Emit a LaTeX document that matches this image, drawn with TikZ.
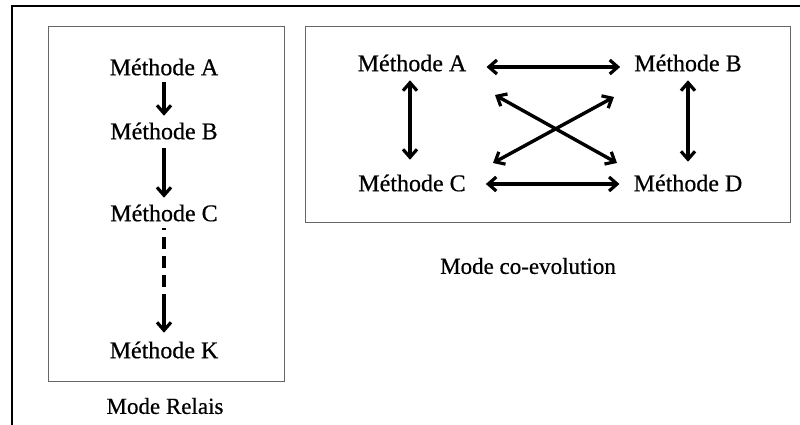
\documentclass[tikz,border=0pt]{standalone}
\usepackage{fontspec}
\setmainfont{Liberation Serif}
\newfontfamily\heavy{Liberation Serif}[FakeBold=0.5]
\usetikzlibrary{arrows.meta}
\begin{document}
\begin{tikzpicture}[x=1pt,y=-1pt,
  lbl/.style={font=\heavy\fontsize{24}{28}\selectfont, inner sep=0pt},
  captxt/.style={font=\heavy\fontsize{23}{27}\selectfont, inner sep=0pt},
  arr/.style={line width=3.2pt, -{Straight Barb[length=8pt,width=14pt,line width=3.2pt]}},
  darr/.style={line width=3.2pt, {Straight Barb[length=8pt,width=14pt,line width=3.2pt]}-{Straight Barb[length=8pt,width=14pt,line width=3.2pt]}},
  diag/.style={darr, line width=3.4pt},
  frame/.style={draw=black!60, line width=1pt}]
\useasboundingbox (0,0) rectangle (800,425);
% outer frame (top and left)
\draw[line width=2.6pt] (12,425) -- (12,6) -- (800,6);
% left box
\draw[frame] (48,27) rectangle (284,381);
\node[lbl] (la) at (164,67) {Méthode A};
\node[lbl] (lb) at (164,131) {Méthode B};
\node[lbl] (lc) at (164,213) {Méthode C};
\node[lbl] (lk) at (164,350) {Méthode K};
\node[captxt] (mr) at (165,406) {Mode Relais};
\draw[arr] ([yshift=-6.6pt]la.south) -- ([yshift=6.6pt]lb.north);
\draw[arr] ([yshift=-8.6pt]lb.south) -- ([yshift=6.6pt]lc.north);
\coordinate (cm) at (164,296);
\draw[line width=3.2pt, dash pattern=on 12pt off 7pt, dash phase=10pt] ([yshift=-6.6pt]lc.south) -- (cm);
\draw[arr] (cm) -- ([yshift=8.6pt]lk.north);
% right box
\draw[frame] (305,27) rectangle (790,222);
\node[lbl] (ra) at (412,63) {Méthode A};
\node[lbl] (rb) at (688,63) {Méthode B};
\node[lbl] (rc) at (412,183) {Méthode C};
\node[lbl] (rd) at (688,183) {Méthode D};
\node[captxt] (mc) at (528,266) {Mode co-evolution};
\draw[darr] ([xshift=20pt,yshift=-4pt]ra.east) -- ([xshift=-14pt,yshift=-4pt]rb.west);
\draw[darr] ([xshift=20pt,yshift=-1pt]rc.east) -- ([xshift=-14pt,yshift=-1pt]rd.west);
\draw[darr] ([xshift=-2pt,yshift=-8.6pt]ra.south) -- ([xshift=-2pt,yshift=14.6pt]rc.north);
\draw[darr] ([yshift=-8.6pt]rb.south) -- ([yshift=12.6pt]rd.north);
\coordinate (d1) at (495,95);
\coordinate (d2) at (617,163);
\coordinate (d3) at (493,163);
\coordinate (d4) at (614,97);
\draw[diag] (d1) -- (d2);
\draw[diag] (d3) -- (d4);
\end{tikzpicture}
\end{document}
